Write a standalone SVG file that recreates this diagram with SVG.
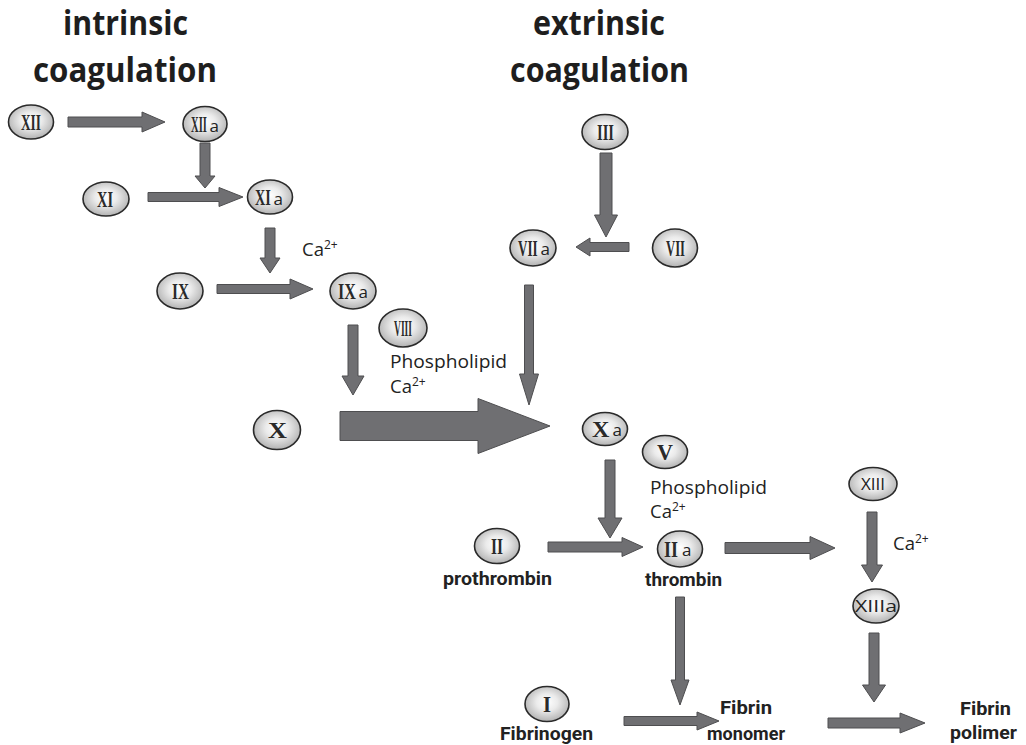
<svg xmlns="http://www.w3.org/2000/svg" width="1026" height="745" viewBox="0 0 1026 745">
<defs>
<radialGradient id="g" cx="50%" cy="45%" r="60%">
<stop offset="0" stop-color="#ffffff"/>
<stop offset="0.4" stop-color="#ebebeb"/>
<stop offset="1" stop-color="#a9a9a9"/>
</radialGradient>
<style>
.n{fill:url(#g);stroke:#2a2a2a;stroke-width:1.6}
.r{font-family:"Liberation Serif",serif;font-weight:bold;font-size:23px;fill:#2a2a2a}
.a{font-family:"Open Sans","Liberation Sans",sans-serif;font-weight:normal;font-size:17px;fill:#222}
.t{font-family:"Open Sans","Liberation Sans",sans-serif;font-size:18.5px;fill:#222}
.s{font-size:12px}
.b{font-family:Roboto,"Liberation Sans",sans-serif;font-weight:bold;font-size:19px;fill:#222}
.h{font-family:"Open Sans","Liberation Sans",sans-serif;font-weight:bold;font-size:34px;fill:#1e1e1e}
.ar{fill:#6f6f72;stroke:#4e4e50;stroke-width:1}
</style>
</defs>
<rect width="1026" height="745" fill="#ffffff"/>
<g id="titles">
<text class="h" x="63" y="35" textLength="125" lengthAdjust="spacingAndGlyphs">intrinsic</text>
<text class="h" x="33" y="82" textLength="184" lengthAdjust="spacingAndGlyphs">coagulation</text>
<text class="h" x="533" y="35" textLength="132" lengthAdjust="spacingAndGlyphs">extrinsic</text>
<text class="h" x="510" y="82" textLength="179" lengthAdjust="spacingAndGlyphs">coagulation</text>
</g>
<g id="connectors">
<polygon class="ar" points="68,117 142,117 142,112 165,122 142,132 142,127 68,127"/>
<polygon class="ar" points="200,143 210,143 210,176 215,176 205,188 195,176 200,176"/>
<polygon class="ar" points="148,192.5 219,192.5 219,187.5 243,197 219,206.5 219,201.5 148,201.5"/>
<polygon class="ar" points="265,228 275,228 275,258 280,258 270,273 260,258 265,258"/>
<polygon class="ar" points="217,284.5 290,284.5 290,279 313,289 290,299 290,293.5 217,293.5"/>
<polygon class="ar" points="348,325 358,325 358,376 364,376 353,395 342,376 348,376"/>
<polygon class="ar" points="340,411.5 478,411.5 478,398.5 550,426 478,453.5 478,440.5 340,440.5"/>
<polygon class="ar" points="600,153 612,153 612,215 617.5,215 606,237 594.5,215 600,215"/>
<polygon class="ar" points="629,242.5 590,242.5 590,238 576,247 590,256 590,251.5 629,251.5"/>
<polygon class="ar" points="524.5,285 533.5,285 533.5,374 538.5,374 529,405 519.5,374 524.5,374"/>
<polygon class="ar" points="605,460 615,460 615,518 622,518 610,538 598,518 605,518"/>
<polygon class="ar" points="548,542 622,542 622,537.5 643,547 622,556.5 622,552 548,552"/>
<polygon class="ar" points="725,542.5 810,542.5 810,536.5 835,548 810,559.5 810,553.5 725,553.5"/>
<polygon class="ar" points="867,512 877,512 877,565 882.5,565 872,582 861.5,565 867,565"/>
<polygon class="ar" points="675.5,597 684.5,597 684.5,680 689,680 680,705 671,680 675.5,680"/>
<polygon class="ar" points="624,716.5 697,716.5 697,712 719,721 697,730 697,725.5 624,725.5"/>
<polygon class="ar" points="869,633 879,633 879,685 885.5,685 874,702 862.5,685 869,685"/>
<polygon class="ar" points="828,718 900,718 900,713 925,723 900,733 900,728 828,728"/>
</g>
<g id="n-XII"><ellipse class="n" cx="31" cy="122" rx="22.5" ry="17"/><text class="r" x="21" y="130" textLength="20" lengthAdjust="spacingAndGlyphs">XII</text></g>
<g id="n-XIIa"><ellipse class="n" cx="205" cy="124" rx="22" ry="17.5"/><text class="r" transform="translate(191,132) scale(0.46,1)">XII</text><text class="a" x="209.5" y="131.5">a</text></g>
<g id="n-XI"><ellipse class="n" cx="106" cy="199" rx="23" ry="17"/><text class="r" x="97" y="207" textLength="16" lengthAdjust="spacingAndGlyphs">XI</text></g>
<g id="n-XIa"><ellipse class="n" cx="270" cy="197" rx="22.5" ry="17"/><text class="r" transform="translate(255,205) scale(0.62,1)">XI</text><text class="a" x="273.5" y="204.5">a</text></g>
<g id="n-IX"><ellipse class="n" cx="180" cy="291" rx="23" ry="18"/><text class="r" x="172" y="299" textLength="17" lengthAdjust="spacingAndGlyphs">IX</text></g>
<g id="n-IXa"><ellipse class="n" cx="353" cy="291" rx="23" ry="18"/><text class="r" transform="translate(338,299) scale(0.7,1)">IX</text><text class="a" x="358.5" y="298">a</text></g>
<g id="n-VIII"><ellipse class="n" cx="403" cy="328" rx="24" ry="19"/><text class="r" x="394" y="336" textLength="18" lengthAdjust="spacingAndGlyphs">VIII</text></g>
<g id="n-X"><ellipse class="n" cx="277" cy="430" rx="23.5" ry="19.5"/><text class="r" x="268" y="438" textLength="19" lengthAdjust="spacingAndGlyphs">X</text></g>
<g id="n-Xa"><ellipse class="n" cx="605" cy="429" rx="22.5" ry="16.5"/><text class="r" transform="translate(592,437) scale(1.05,1)">X</text><text class="a" x="612.5" y="436">a</text></g>
<g id="n-V"><ellipse class="n" cx="665" cy="452" rx="22.5" ry="16.5"/><text class="r" x="657" y="460" textLength="16" lengthAdjust="spacingAndGlyphs">V</text></g>
<g id="n-III"><ellipse class="n" cx="605" cy="132" rx="23" ry="17.5"/><text class="r" x="597" y="140" textLength="17" lengthAdjust="spacingAndGlyphs">III</text></g>
<g id="n-VII"><ellipse class="n" cx="675" cy="248" rx="22.5" ry="19"/><text class="r" x="666" y="256" textLength="19" lengthAdjust="spacingAndGlyphs">VII</text></g>
<g id="n-VIIa"><ellipse class="n" cx="533" cy="248" rx="23" ry="18"/><text class="r" transform="translate(518,256) scale(0.57,1)">VII</text><text class="a" x="540.5" y="255">a</text></g>
<g id="n-II"><ellipse class="n" cx="497" cy="546" rx="22.5" ry="17.5"/><text class="r" x="491" y="554" textLength="12" lengthAdjust="spacingAndGlyphs">II</text></g>
<g id="n-IIa"><ellipse class="n" cx="680" cy="549" rx="22.5" ry="18"/><text class="r" transform="translate(664,557) scale(0.78,1)">II</text><text class="a" x="682" y="556">a</text></g>
<g id="n-XIII"><ellipse class="n" cx="873" cy="484" rx="24" ry="16.5"/><text class="a" x="873" y="490" text-anchor="middle">XIII</text></g>
<g id="n-XIIIa"><ellipse class="n" cx="876" cy="606" rx="23" ry="17"/><text class="a" x="855" y="612" textLength="42" lengthAdjust="spacingAndGlyphs">XIIIa</text></g>
<g id="n-I"><ellipse class="n" cx="547" cy="704" rx="22" ry="17.5"/><text class="r" x="543" y="712" textLength="8" lengthAdjust="spacingAndGlyphs">I</text></g>
<g id="labels">
<text class="t" x="302" y="256">Ca<tspan class="s" dy="-7">2+</tspan></text>
<text class="t" x="390" y="368" textLength="117" lengthAdjust="spacingAndGlyphs">Phospholipid</text>
<text class="t" x="390" y="393">Ca<tspan class="s" dy="-7">2+</tspan></text>
<text class="t" x="650" y="494" textLength="117" lengthAdjust="spacingAndGlyphs">Phospholipid</text>
<text class="t" x="650" y="518">Ca<tspan class="s" dy="-7">2+</tspan></text>
<text class="t" x="893" y="550">Ca<tspan class="s" dy="-7">2+</tspan></text>
<text class="b" x="443" y="585" textLength="109" lengthAdjust="spacingAndGlyphs">prothrombin</text>
<text class="b" x="645" y="586" textLength="77" lengthAdjust="spacingAndGlyphs">thrombin</text>
<text class="b" x="500" y="740" textLength="93" lengthAdjust="spacingAndGlyphs">Fibrinogen</text>
<text class="b" x="720" y="714" textLength="52" lengthAdjust="spacingAndGlyphs">Fibrin</text>
<text class="b" x="707" y="740" textLength="78" lengthAdjust="spacingAndGlyphs">monomer</text>
<text class="b" x="960" y="715" textLength="51" lengthAdjust="spacingAndGlyphs">Fibrin</text>
<text class="b" x="950" y="739" textLength="67" lengthAdjust="spacingAndGlyphs">polimer</text>
</g>
</svg>
